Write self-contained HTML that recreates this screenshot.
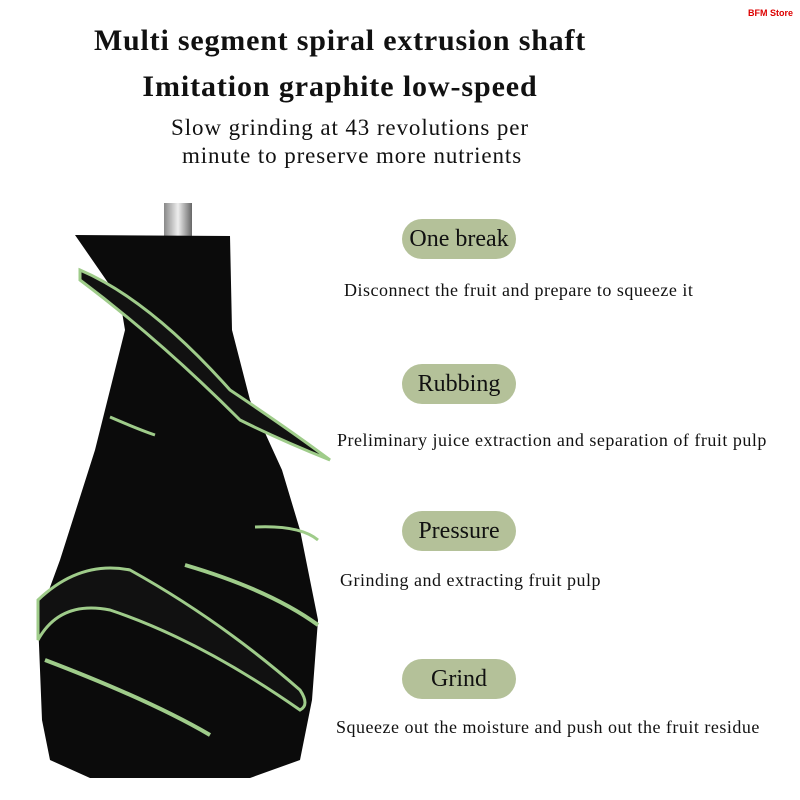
<!DOCTYPE html>
<html><head><meta charset="utf-8"><style>
body{margin:0;width:800px;height:800px;background:#fff;position:relative;overflow:hidden;font-family:"Liberation Serif",serif;color:#111}
.t{position:absolute;white-space:nowrap}
.pill{position:absolute;left:402px;width:114px;height:40px;border-radius:20px;background:#b4c199;font-size:24px;text-align:center;line-height:40px;white-space:nowrap}
.d{position:absolute;font-size:18px;letter-spacing:0.5px;white-space:nowrap}
</style></head><body>
<div class="t" style="left:748px;top:8px;font:bold 9px 'Liberation Sans',sans-serif;color:#d00">BFM Store</div>
<div class="t" style="left:0;width:680px;text-align:center;top:24px;font-weight:bold;font-size:30px;letter-spacing:0.8px">Multi segment spiral extrusion shaft</div>
<div class="t" style="left:0;width:680px;text-align:center;top:70px;font-weight:bold;font-size:30px;letter-spacing:0.9px">Imitation graphite low-speed</div>
<div class="t" style="left:0;width:700px;text-align:center;top:115px;font-size:23px;letter-spacing:0.9px">Slow grinding at 43 revolutions per</div>
<div class="t" style="left:0;width:704px;text-align:center;top:143px;font-size:23px;letter-spacing:0.9px">minute to preserve more nutrients</div>

<div class="pill" style="top:219px">One break</div>
<div class="d" style="left:344px;top:280px">Disconnect the fruit and prepare to squeeze it</div>
<div class="pill" style="top:364px">Rubbing</div>
<div class="d" style="left:337px;top:430px">Preliminary juice extraction and separation of fruit pulp</div>
<div class="pill" style="top:511px">Pressure</div>
<div class="d" style="left:340px;top:570px">Grinding and extracting fruit pulp</div>
<div class="pill" style="top:659px">Grind</div>
<div class="d" style="left:336px;top:717px">Squeeze out the moisture and push out the fruit residue</div>

<svg style="position:absolute;left:0;top:0" width="800" height="800">
<defs><linearGradient id="m" x1="0" x2="1"><stop offset="0" stop-color="#888"/><stop offset=".5" stop-color="#eee"/><stop offset="1" stop-color="#666"/></linearGradient></defs>
<rect x="164" y="203" width="28" height="38" fill="url(#m)"/>
<path d="M75 235 L230 236 L232 330 L250 400 L282 470 L300 530 L318 620 L312 700 L300 760 L250 778 L90 778 L50 760 L42 720 L38 620 L60 560 L95 450 L125 330 L120 300 Z" fill="#0b0b0b"/>
<path d="M80 270 Q150 300 230 390 Q290 430 330 460 Q280 440 240 420 Q160 340 80 280 Z" fill="#111" stroke="#9fcc8a" stroke-width="3"/>
<path d="M38 600 Q80 560 130 570 Q220 620 300 690 Q310 705 300 710 Q200 640 110 610 Q60 600 38 640 Z" fill="#111" stroke="#9fcc8a" stroke-width="3"/>
<path d="M45 660 Q150 700 210 735" fill="none" stroke="#9fcc8a" stroke-width="4"/>
<path d="M185 565 Q270 590 318 625" fill="none" stroke="#9fcc8a" stroke-width="4"/>
<path d="M255 527 Q300 525 318 540" fill="none" stroke="#9fcc8a" stroke-width="3"/>
<path d="M110 417 Q140 430 155 435" fill="none" stroke="#9fcc8a" stroke-width="3"/>
</svg>
</body></html>
